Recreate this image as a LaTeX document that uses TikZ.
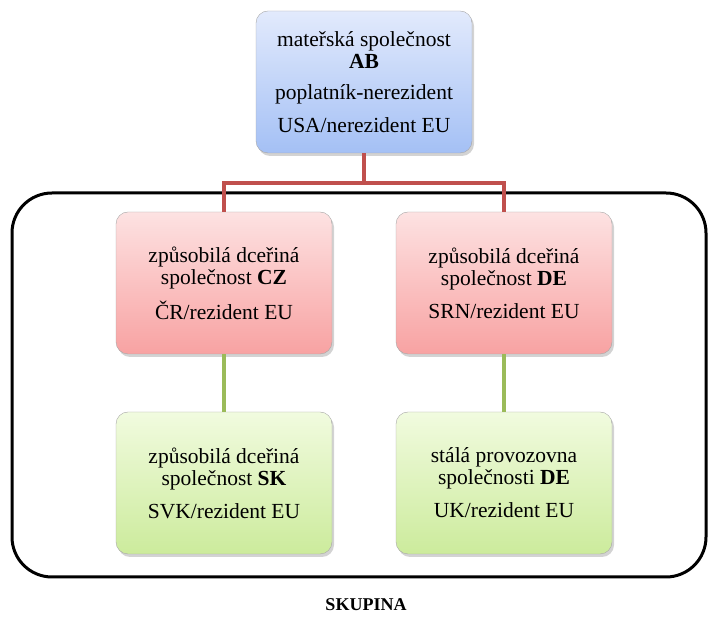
\documentclass[tikz,border=0pt]{standalone}
\usepackage{fontspec}
\setmainfont{Liberation Serif}
\usetikzlibrary{shadows}

\definecolor{linkred}{HTML}{C0504D}
\definecolor{linkgreen}{HTML}{9BBB59}
\definecolor{bluetop}{HTML}{E2EAFC}
\definecolor{bluebot}{HTML}{A4C0F5}
\definecolor{redtop}{HTML}{FDE2E2}
\definecolor{redbot}{HTML}{F8A2A2}
\definecolor{greentop}{HTML}{F1FBDF}
\definecolor{greenbot}{HTML}{CCEB9C}

\begin{document}
\begin{tikzpicture}[x=1pt,y=1pt]
\tikzset{firm/.style={draw=gray!70,rounded corners=12pt,minimum width=216pt,minimum height=142pt,
  align=center,font=\fontsize{21.5}{22}\selectfont,
  drop shadow={shadow xshift=2pt,shadow yshift=-3pt,opacity=0.35}}}
\tikzset{parent/.style={firm,top color=bluetop,bottom color=bluebot}}
\tikzset{daughter/.style={firm,top color=redtop,bottom color=redbot}}
\tikzset{branch/.style={firm,top color=greentop,bottom color=greenbot}}
\tikzset{redlink/.style={draw=linkred,line width=3.5pt}}
\tikzset{greenlink/.style={draw=linkgreen,line width=3.5pt}}

\useasboundingbox (0,0) rectangle (710,621);

\draw[line width=3pt,rounded corners=40pt] (12,44) rectangle (706,428);

\node[parent] (ab) at (364,539) {mateřská společnost\\\textbf{AB}\\[9pt]poplatník-nerezident\\[11pt]USA/nerezident EU};

\node[daughter] (cz) at (224,338) {způsobilá dceřiná\\společnost \textbf{CZ}\\[11pt]ČR/rezident EU};
\node[daughter] (de) at (504,338) {způsobilá dceřiná\\společnost \textbf{DE}\\[11pt]SRN/rezident EU};

\node[branch] (sk) at (224,138) {způsobilá dceřiná\\společnost \textbf{SK}\\[11pt]SVK/rezident EU};
\node[branch] (uk) at (504,138) {stálá provozovna\\společnosti \textbf{DE}\\[11pt]UK/rezident EU};

\coordinate (fork) at (364,438);

\draw[redlink] (ab.south) -- (fork) -| (cz.north);
\draw[redlink] (fork) -| (de.north);
\draw[greenlink] (cz.south) -- (sk.north);
\draw[greenlink] (de.south) -- (uk.north);

\node[font=\fontsize{18}{22}\selectfont\bfseries] (group) at (366,16) {SKUPINA};

\end{tikzpicture}
\end{document}
